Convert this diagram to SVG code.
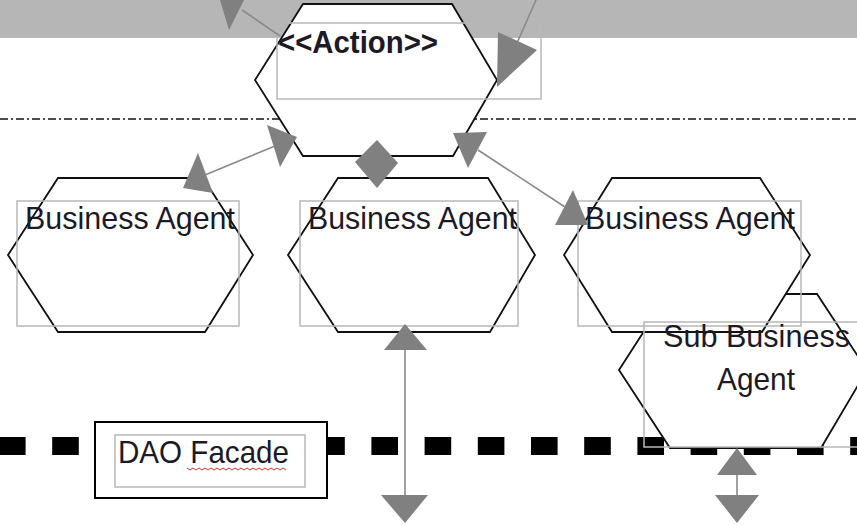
<svg xmlns="http://www.w3.org/2000/svg" width="857" height="526" viewBox="0 0 857 526">
<defs>
<style>
.hex{fill:#fff;stroke:#111;stroke-width:1.8;stroke-linejoin:miter}
.box{fill:none;stroke:#b8b8b8;stroke-width:1.5}
.lbl{font-family:"Liberation Sans",Arial,sans-serif;font-size:32px;fill:#1c1a26}
.head{fill:#808080;stroke:none}
.ln{stroke:#8a8a8a;stroke-width:1.6;fill:none}
</style>
</defs>
<rect x="0" y="0" width="857" height="38" fill="#b6b6b6"/>
<line x1="0" y1="119" x2="857" y2="119" stroke="#111" stroke-width="1.6" stroke-dasharray="8 3 2 3"/>
<line x1="-1" y1="446" x2="860" y2="446" stroke="#000" stroke-width="18" stroke-dasharray="26.6 26.6"/>

<g id="action">
<polygon class="hex" points="303,4 452,4 497,80 453,156 303,156 255,80"/>
<rect class="box" x="277" y="23" width="264" height="76"/>
<text class="lbl" x="278" y="53" font-weight="bold" font-size="31" textLength="160" lengthAdjust="spacingAndGlyphs">&lt;&lt;Action&gt;&gt;</text>
</g>

<g id="ba1">
<polygon class="hex" points="58,178 203,178 253,255 205,332 58,332 8,255"/>
<rect class="box" x="17" y="201" width="222" height="125"/>
<text class="lbl" x="25" y="229" textLength="210" lengthAdjust="spacingAndGlyphs">Business Agent</text>
</g>

<g id="ba2">
<polygon class="hex" points="338,178 488,178 535,255 490,332 338,332 288,255"/>
<rect class="box" x="300" y="201" width="218" height="125"/>
<text class="lbl" x="308" y="229" textLength="209" lengthAdjust="spacingAndGlyphs">Business Agent</text>
</g>

<g id="sub">
<polygon class="hex" points="668,294 817,294 867,370 821,448 670,448 619,370"/>
</g>

<g id="ba3">
<polygon class="hex" points="612,178 760,178 810,255 762,332 612,332 564,255"/>
<rect class="box" x="578" y="201" width="223" height="125"/>
<text class="lbl" x="585" y="229" textLength="210" lengthAdjust="spacingAndGlyphs">Business Agent</text>
</g>

<g id="sub-label">
<rect class="box" x="644" y="322" width="230" height="125"/>
<text class="lbl" x="663" y="347" fill="#333" textLength="187" lengthAdjust="spacingAndGlyphs">Sub Business</text>
<text class="lbl" x="717" y="390" fill="#333" textLength="78" lengthAdjust="spacingAndGlyphs">Agent</text>
</g>

<g id="dao">
<rect x="95" y="422" width="232" height="76" fill="#fff" stroke="#000" stroke-width="2"/>
<rect class="box" x="115" y="435" width="190" height="52"/>
<text class="lbl" x="118" y="463" font-size="31" textLength="171" lengthAdjust="spacingAndGlyphs">DAO Facade</text>
<path d="M187,468 l3,2 l3,-2 l3,2 l3,-2 l3,2 l3,-2 l3,2 l3,-2 l3,2 l3,-2 l3,2 l3,-2 l3,2 l3,-2 l3,2 l3,-2 l3,2 l3,-2 l3,2 l3,-2 l3,2 l3,-2 l3,2 l3,-2 l3,2 l3,-2 l3,2 l3,-2 l3,2 l3,-2 l3,2 l3,-2 l3,2" fill="none" stroke="#e0302a" stroke-width="1"/>
</g>

<g id="connectors">
<line class="ln" x1="242" y1="10" x2="280" y2="36"/>
<polygon class="head" points="220,0 244,0 229,30"/>
<line class="ln" x1="536" y1="0" x2="517" y2="43"/>
<polygon class="head" points="498,32 537,50 497,87"/>
<line class="ln" x1="205" y1="175" x2="275" y2="146"/>
<polygon class="head" points="267,125 297,137 280,167"/>
<polygon class="head" points="198,153 183,188 213,193"/>
<line class="ln" x1="478" y1="150" x2="565" y2="207"/>
<polygon class="head" points="453,133 487,132 468,168"/>
<polygon class="head" points="573,190 555,225 588,225"/>
<polygon class="head" points="377,140 398,163 377,188 355,162"/>
<line class="ln" x1="405" y1="350" x2="405" y2="495"/>
<polygon class="head" points="405,324 384,350 427,350"/>
<polygon class="head" points="381,495 428,495 405,523"/>
<line class="ln" x1="737" y1="475" x2="737" y2="495"/>
<polygon class="head" points="737,448 717,475 757,475"/>
<polygon class="head" points="715,495 759,495 737,523"/>
</g>
</svg>
